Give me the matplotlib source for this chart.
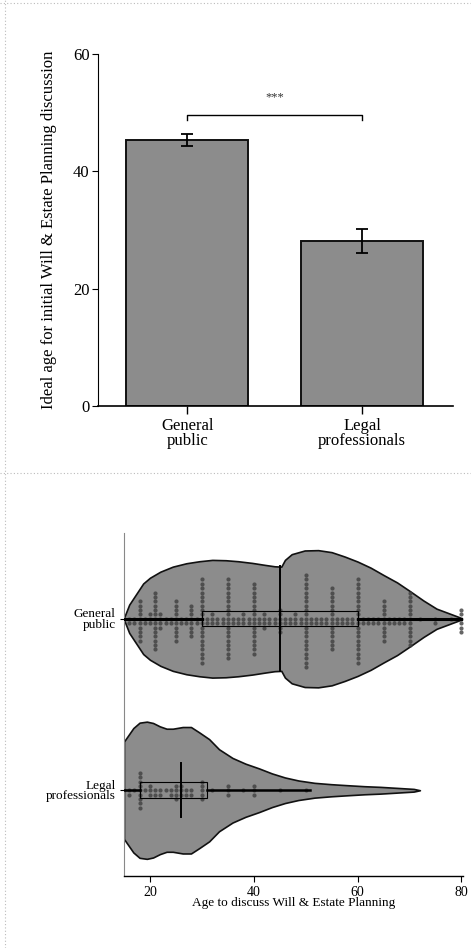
import numpy as np
import matplotlib.pyplot as plt
import seaborn as sns
from matplotlib.lines import Line2D
from matplotlib.patches import Rectangle

plt.rcParams['font.family'] = ['Liberation Serif', 'DejaVu Serif']

# --- top panel: mean ideal age with error bars
groups = ["General\npublic", "Legal\nprofessionals"]
mean_age = [45.3, 28.1]
err_age = [1.0, 2.0]
sig_label = "***"

# --- bottom panel: responses (age -> number of respondents)
gp_ages = [15, 16, 17, 18, 19, 20, 21, 22, 23, 24, 25, 26, 27, 28, 29, 30,
           31, 32, 33, 34, 35, 36, 37, 38, 39, 40, 41, 42, 43, 44, 45, 46,
           47, 48, 49, 50, 51, 52, 53, 54, 55, 56, 57, 58, 59, 60, 61, 62,
           63, 64, 65, 66, 67, 68, 69, 70, 72, 75, 78, 80]
gp_counts = [1, 2, 2, 10, 2, 3, 14, 4, 2, 2, 10, 2, 2, 8, 2, 20,
             2, 3, 2, 2, 19, 2, 2, 3, 2, 17, 2, 4, 2, 2, 6, 2,
             2, 3, 2, 22, 2, 2, 2, 2, 15, 2, 2, 2, 2, 20, 2, 2,
             2, 2, 10, 2, 2, 2, 2, 13, 1, 2, 1, 6]
lp_ages = [15, 16, 17, 18, 19, 20, 21, 22, 23, 24, 25, 26, 27, 28, 30, 32,
           35, 38, 40, 45, 50]
lp_counts = [1, 2, 1, 9, 1, 3, 2, 2, 1, 2, 4, 3, 2, 2, 5, 1,
             3, 1, 3, 1, 1]

# violin outlines (age, relative density)
gp_vx = [15, 16, 17.5, 18.7, 20, 22, 24.4, 27, 29.5, 32, 34.6, 37, 39.7,
         42.2, 44, 45.3, 46, 47.3, 49.8, 52.4, 55, 57.5, 60, 62.5, 65, 67.6,
         70, 72.7, 75.2, 77.8, 79.7, 80]
gp_vd = [3, 42, 77, 105, 122, 140, 155, 165, 171, 175, 174, 171, 166,
         160, 156, 155, 175, 192, 203, 204, 198, 185, 170, 152, 130, 108,
         83, 54, 30, 15, 4, 0]
lp_vx = [15, 16.8, 18, 19.4, 20.6, 21.9, 23.2, 24.4, 26.3, 27.9, 29.5, 31.4,
         33.3, 35.9, 38.4, 41, 43.5, 46, 48.6, 51.7, 54.9, 58, 61.3, 64.4,
         67.6, 70.8, 72]
lp_vd = [145, 185, 201, 204, 200, 190, 183, 183, 188, 188, 172, 152,
         122, 96, 79, 65, 50, 38, 29, 22, 18, 15, 12, 10, 7, 4, 0]

# box summaries: whisker low, q1, median, q3, whisker high
gp_box = [15, 30, 45, 60, 80]
lp_box = [15, 18, 26, 31, 50.8]

bar_grey = "#8c8c8c"

fig = plt.figure(figsize=(4.71, 9.48), dpi=100)

# ---------------- top bar chart
ax1 = fig.add_axes([98 / 471, 542 / 948, 355 / 471, 352 / 948])
x = np.arange(len(groups))
ax1.bar(x, mean_age, width=0.7, color=bar_grey, edgecolor="#111111",
        linewidth=1.4, zorder=2)
ax1.errorbar(x, mean_age, yerr=err_age, fmt="none", ecolor="black",
             elinewidth=1.3, capsize=4, capthick=1.3, zorder=3)
ax1.plot([0, 0, 1, 1], [48.8, 49.6, 49.6, 48.8], color="black", lw=1)
ax1.text(0.5, 51.6, sig_label, ha="center", va="bottom", fontsize=9,
         color="#333333")
ax1.set_xlim(-0.51, 1.52)
ax1.set_ylim(0, 60)
ax1.set_yticks([0, 20, 40, 60])
ax1.set_xticks(x)
ax1.set_xticklabels(groups, fontsize=12, linespacing=0.85)
ax1.tick_params(axis="y", labelsize=12, length=4, width=0.8, pad=2)
ax1.tick_params(axis="x", length=6, width=1, pad=3)
for s in ["top", "right"]:
    ax1.spines[s].set_visible(False)
ax1.spines["left"].set_linewidth(0.8)
ax1.spines["bottom"].set_linewidth(1.2)
ax1.set_ylabel("Ideal age for initial Will & Estate Planning discussion",
               fontsize=12)
ax1.yaxis.set_label_coords(-0.115, 0.5)

# ---------------- bottom violin chart
ax2 = fig.add_axes([124 / 471, 72 / 948, 339 / 471, 343 / 948])
order = ["General\npublic", "Legal\nprofessionals"]

all_vals = np.concatenate([np.repeat(gp_ages, gp_counts),
                           np.repeat(lp_ages, lp_counts)]).astype(float)
all_grp = [order[0]] * int(sum(gp_counts)) + [order[1]] * int(sum(lp_counts))

dmax = max(max(gp_vd), max(lp_vd))
for pos, vx, vd in [(0, gp_vx, gp_vd), (1, lp_vx, lp_vd)]:
    w = np.array(vd) / dmax * 0.4
    ax2.fill_between(vx, pos - w, pos + w, facecolor=bar_grey,
                     edgecolor="#111111", linewidth=1.2, zorder=1)

sns.swarmplot(x=all_vals, y=all_grp, order=order, orient="h", size=3.0,
              color="#3f3f3f", linewidth=0, alpha=0.8, ax=ax2, zorder=2,
              warn_thresh=1)

for pos, box, hh, mh, lw in [(0, gp_box, 0.043, 0.305, 2.2),
                             (1, lp_box, 0.048, 0.157, 1.8)]:
    lo, q1, med, q3, hi = box
    ax2.add_patch(Rectangle((q1, pos - hh), q3 - q1, 2 * hh, fill=False,
                            edgecolor="black", linewidth=0.8, zorder=4))
    ax2.plot([lo, q1], [pos, pos], color="black", lw=lw, zorder=4)
    ax2.plot([q3, hi], [pos, pos], color="black", lw=lw, zorder=4)
    ax2.plot([med, med], [pos - mh, pos + mh], color="black", lw=1.4, zorder=4)

ax2.set_xlim(15, 80.3)
ax2.set_ylim(1.5, -0.5)
ax2.set_yticks([0, 1])
ax2.set_yticklabels(order, fontsize=9.5, linespacing=0.85)
ax2.set_xticks([20, 40, 60, 80])
ax2.tick_params(axis="x", labelsize=10, length=4, width=0.8, pad=3)
ax2.tick_params(axis="y", length=3, width=0.8, pad=3)
for s in ["top", "right"]:
    ax2.spines[s].set_visible(False)
ax2.spines["left"].set_color("#888888")
ax2.spines["left"].set_linestyle((0, (1, 1)))
ax2.spines["left"].set_linewidth(0.8)
ax2.spines["bottom"].set_linewidth(1.0)
ax2.set_ylabel("")
ax2.set_xlabel("Age to discuss Will & Estate Planning", fontsize=9.5,
               labelpad=-1)

# faint panel borders
for line in [Line2D([0.011, 0.011], [0, 1]), Line2D([0, 1], [0.997, 0.997]),
             Line2D([0, 1], [0.501, 0.501])]:
    line.set_transform(fig.transFigure)
    line.set_color("#bbbbbb")
    line.set_linestyle((0, (1, 2)))
    line.set_linewidth(0.8)
    fig.add_artist(line)

fig.savefig("out.png", dpi=100)
